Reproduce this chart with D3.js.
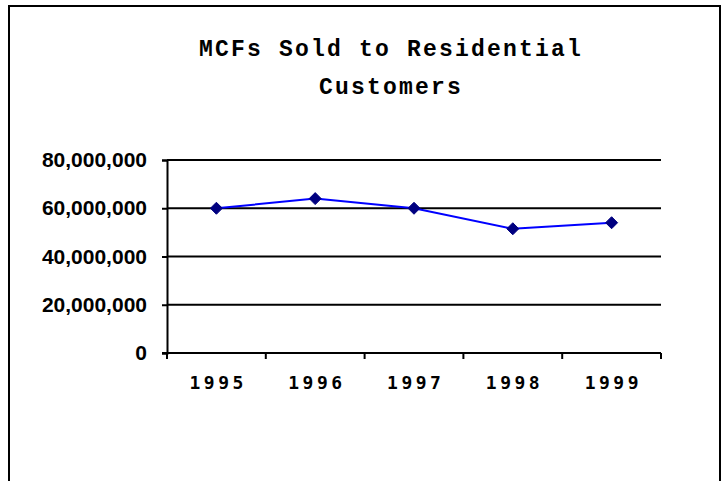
<!DOCTYPE html>
<html>
<head>
<meta charset="utf-8">
<script src="https://cdn.jsdelivr.net/npm/d3@7"></script>
<style>
  html, body { margin: 0; padding: 0; background: #fff; }
  svg { display: block; }
</style>
</head>
<body>
<svg id="chart" width="727" height="481"></svg>
<script>
const titleLines = ["MCFs Sold to Residential", "Customers"];
const years = ["1995", "1996", "1997", "1998", "1999"];
const mcfValues = [60000000, 64000000, 60000000, 51500000, 54000000];
const yTicks = [0, 20000000, 40000000, 60000000, 80000000];

const svg = d3.select("#chart");
const plot = { left: 167, right: 661, top: 160, bottom: 353 };

// outer frame (bottom edge lies outside the window)
svg.append("rect")
  .attr("x", 9).attr("y", 6)
  .attr("width", 711).attr("height", 500)
  .attr("fill", "#fff").attr("stroke", "#000").attr("stroke-width", 2);

// title
svg.append("g").selectAll("text").data(titleLines).join("text")
  .attr("x", 390 + 1.1)
  .attr("y", (d, i) => 56 + i * 38)
  .attr("text-anchor", "middle")
  .attr("font-family", "'Liberation Mono', 'Courier New', monospace")
  .attr("font-weight", "bold")
  .attr("font-size", 23)
  .attr("letter-spacing", 2.2)
  .attr("fill", "#000")
  .text(d => d);

const x = d3.scaleBand().domain(years).range([plot.left, plot.right]).padding(0);
const y = d3.scaleLinear().domain([0, 80000000]).range([plot.bottom, plot.top]);

// gridlines
svg.append("g").selectAll("line").data(yTicks.filter(d => d > 0)).join("line")
  .attr("x1", plot.left).attr("x2", plot.right)
  .attr("y1", d => y(d)).attr("y2", d => y(d))
  .attr("stroke", "#000").attr("stroke-width", 2);

// y axis
const yAxis = svg.append("g")
  .attr("transform", `translate(${plot.left},0)`)
  .call(d3.axisLeft(y).tickValues(yTicks).tickFormat(d3.format(",")).tickSize(5).tickPadding(15));
yAxis.select(".domain").attr("stroke", "#000").attr("stroke-width", 2);
yAxis.selectAll(".tick line").attr("stroke", "#000").attr("stroke-width", 2);
yAxis.selectAll(".tick text")
  .attr("font-family", "'Liberation Sans', Arial, sans-serif")
  .attr("font-weight", "bold")
  .attr("font-size", 21)
  .attr("fill", "#000");

// x axis: ticks at band boundaries
const boundaries = years.map(d => x(d)).concat([x(years[years.length - 1]) + x.bandwidth()]);
const xAxisG = svg.append("g");
xAxisG.append("line")
  .attr("x1", plot.left - 5).attr("x2", plot.right)
  .attr("y1", plot.bottom).attr("y2", plot.bottom)
  .attr("stroke", "#000").attr("stroke-width", 2);
xAxisG.selectAll("line.tk").data(boundaries).join("line")
  .attr("class", "tk")
  .attr("x1", d => d).attr("x2", d => d)
  .attr("y1", plot.bottom).attr("y2", plot.bottom + 6)
  .attr("stroke", "#000").attr("stroke-width", 2);
xAxisG.selectAll("text").data(years).join("text")
  .attr("x", d => x(d) + x.bandwidth() / 2 + 1.75)
  .attr("y", 389)
  .attr("text-anchor", "middle")
  .attr("font-family", "'DejaVu Sans Mono', monospace")
  .attr("font-weight", "bold")
  .attr("font-size", 18)
  .attr("letter-spacing", 3.5)
  .attr("fill", "#000")
  .text(d => d);

// line
const cx = d => x(d) + x.bandwidth() / 2;
const line = d3.line().x((d, i) => cx(years[i])).y(d => y(d));
svg.append("path")
  .datum(mcfValues)
  .attr("d", line)
  .attr("fill", "none")
  .attr("stroke", "#0000ff")
  .attr("stroke-width", 2);

// diamond markers
svg.append("g").selectAll("path").data(mcfValues).join("path")
  .attr("transform", (d, i) => `translate(${cx(years[i])},${y(d)})`)
  .attr("d", "M0,-6L6,0L0,6L-6,0Z")
  .attr("fill", "#000080")
  .attr("stroke", "#000080")
  .attr("stroke-width", 1);
</script>
</body>
</html>
